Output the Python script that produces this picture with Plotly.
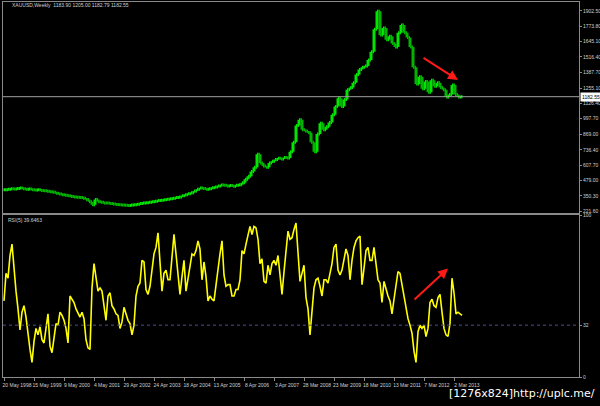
import pandas as pd
import plotly.graph_objects as go

# weekly gold bars, one close every 3 screen px
price_close = [
    400, 405, 410, 408, 412, 415, 410, 405, 408, 402,
    398, 400, 395, 392, 388, 385, 380, 372, 365, 360,
    355, 350, 345, 340, 338, 335, 330, 320, 300, 275,
    320, 300, 295, 290, 290, 285, 282, 278, 275, 272,
    270, 268, 272, 275, 280, 285, 290, 292, 295, 300,
    305, 310, 312, 318, 322, 325, 330, 335, 340, 350,
    360, 368, 376, 390, 405, 416, 412, 405, 410, 418,
    425, 432, 440, 438, 432, 436, 430, 438, 442, 460,
    490, 515, 555, 590, 700, 626, 600, 590, 625, 640,
    655, 665, 660, 672, 668, 720, 800, 940, 990, 905,
    895, 880, 800, 720, 870, 960, 905, 930, 965, 1030,
    1100, 1170, 1100, 1160, 1240, 1260, 1300, 1370, 1410, 1430,
    1440, 1490, 1560, 1750, 1900, 1700, 1760, 1660, 1690, 1630,
    1600, 1720, 1785, 1720, 1680, 1600, 1430, 1290, 1350, 1250,
    1310, 1220, 1320, 1270, 1300, 1260, 1240, 1180, 1200, 1280,
    1200, 1180, 1183,
]

# RSI values, one every 2 screen px
rsi_values = [
    47, 64, 61, 75, 82, 66, 53, 42, 29, 40,
    44, 37, 25, 17, 9, 22, 30, 26, 31, 23,
    21, 30, 39, 19, 15, 24, 33, 32, 40, 38,
    35, 30, 21, 50, 48, 46, 42, 39, 37, 40,
    36, 23, 18, 17, 55, 70, 62, 53, 55, 53,
    44, 35, 50, 52, 44, 42, 39, 38, 30, 34,
    43, 39, 35, 33, 26, 32, 50, 56, 58, 72,
    71, 54, 51, 56, 68, 76, 80, 89, 71, 53,
    64, 66, 60, 60, 74, 88, 76, 64, 51, 62,
    72, 53, 61, 68, 76, 75, 78, 84, 79, 60,
    71, 62, 47, 50, 48, 47, 58, 68, 76, 84,
    63, 56, 57, 57, 50, 50, 54, 54, 60, 78,
    76, 82, 88, 93, 88, 93, 92, 85, 70, 73,
    59, 58, 69, 63, 70, 72, 69, 75, 63, 51,
    65, 79, 90, 85, 86, 91, 95, 77, 59, 64,
    69, 49, 42, 26, 42, 55, 60, 61, 56, 50,
    60, 60, 58, 64, 70, 80, 82, 66, 63, 66,
    73, 79, 75, 60, 72, 80, 84, 86, 87, 57,
    67, 78, 80, 72, 72, 80, 70, 60, 58, 46,
    59, 54, 50, 47, 39, 48, 58, 65, 64, 57,
    50, 45, 36, 32, 27, 16, 9, 28, 32, 30,
    32, 25, 30, 46, 48, 44, 43, 49, 51, 40,
    30, 26, 25, 33, 61, 52, 39, 40, 39, 38,
]

price_ticks = [1902.50, 1773.80, 1645.10, 1516.40, 1387.70, 1255.10, 1126.40,
               997.70, 869.00, 736.40, 607.70, 479.00, 350.30, 221.60]
rsi_ticks = [0, 32, 100]
last_price = 1182.55
rsi_level = 32
title_price = "XAUUSD,Weekly  1183.90 1205.00 1182.79 1182.55"
title_rsi = "RSI(5) 39.6463"

PX_DAYS = 12
AXIS_START = pd.Timestamp("1998-05-08")
L, R, T, B = 3, 579, 2, 377  # plot area in screen px


def at_px(px):
    return AXIS_START + pd.Timedelta(days=(px - L) * PX_DAYS)


def paper_x(px):
    return (px - L) / (R - L)


def paper_y(py):
    return (B - py) / (B - T)


price_dates = pd.date_range(at_px(5), periods=len(price_close), freq="36D")
rsi_dates = pd.date_range(at_px(4), periods=len(rsi_values), freq="24D")
price_open = [price_close[0]] + price_close[:-1]
price_high = [max(o, c) for o, c in zip(price_open, price_close)]
price_low = [min(o, c) for o, c in zip(price_open, price_close)]

x_tick_dates = [at_px(4 + 30 * k) for k in range(16)]
x_tick_text = [f"{d.day} {d:%b %Y}" for d in x_tick_dates]

GRAY = "#8a8a8a"
TXT = "#d0d0d0"
FONT = "Liberation Sans"

fig = go.Figure()
fig.add_trace(go.Ohlc(
    x=price_dates, open=price_open, high=price_high, low=price_low, close=price_close,
    increasing_line_color="#00e600", decreasing_line_color="#00b400",
    line_width=3, tickwidth=0.5, xaxis="x", yaxis="y", hoverinfo="skip",
))
fig.add_trace(go.Scatter(
    x=rsi_dates, y=rsi_values, mode="lines", line={"color": "#ffff00", "width": 1.6},
    xaxis="x2", yaxis="y2", hoverinfo="skip",
))

axis_common = {"showgrid": False, "zeroline": False, "showline": True, "mirror": True,
               "linecolor": GRAY, "linewidth": 1, "automargin": False}
x_range = [at_px(L), at_px(R)]

fig.update_layout(
    width=600, height=406, showlegend=False,
    paper_bgcolor="#000000", plot_bgcolor="#000000",
    margin={"l": L, "r": 600 - R, "t": T, "b": 406 - B},
    font={"family": FONT, "size": 5, "color": TXT},
    xaxis={**axis_common, "domain": [0, 1], "anchor": "y", "range": x_range,
           "showticklabels": False, "ticks": "", "rangeslider": {"visible": False}},
    xaxis2={**axis_common, "domain": [0, 1], "anchor": "y2", "matches": "x",
            "range": x_range, "tickvals": x_tick_dates, "ticktext": x_tick_text,
            "tickangle": 0, "ticks": "outside", "ticklen": 3, "tickcolor": GRAY,
            "ticklabelshift": 13, "tickfont": {"size": 5, "color": TXT},
            "rangeslider": {"visible": False}},
    yaxis={**axis_common, "domain": [paper_y(213), 1], "anchor": "x", "side": "right",
           "range": [205.7, 1978], "tickvals": price_ticks,
           "ticktext": [f"{v:.2f}" for v in price_ticks],
           "ticks": "outside", "ticklen": 2, "tickcolor": GRAY, "tickfont": {"size": 5, "color": TXT}},
    yaxis2={**axis_common, "domain": [0, paper_y(215)], "anchor": "x2", "side": "right",
            "range": [0, 100], "tickvals": rsi_ticks, "ticktext": [str(v) for v in rsi_ticks],
            "ticks": "outside", "ticklen": 2, "tickcolor": GRAY, "tickfont": {"size": 5, "color": TXT}},
)

# last price line and marker
fig.add_shape(type="line", xref="paper", yref="y", x0=0, x1=1,
              y0=last_price, y1=last_price, line={"color": "#a0a0a0", "width": 1})
fig.add_annotation(xref="paper", yref="y", x=paper_x(580), y=last_price, xanchor="left",
                   text=f"{last_price:.2f}", showarrow=False, bgcolor="#ffffff",
                   font={"size": 5, "color": "#000000"}, borderpad=1)
# RSI level
fig.add_shape(type="line", xref="paper", yref="y2", x0=0, x1=1,
              y0=rsi_level, y1=rsi_level, line={"color": "#50508c", "width": 1, "dash": "dot"})

# pane captions
fig.add_annotation(xref="paper", yref="paper", x=paper_x(10), y=paper_y(5), xanchor="left",
                   yanchor="middle", text=title_price, showarrow=False, font={"size": 5, "color": TXT})
fig.add_annotation(xref="paper", yref="paper", x=paper_x(6), y=paper_y(220), xanchor="left",
                   yanchor="middle", text=title_rsi, showarrow=False, font={"size": 5, "color": TXT})

# hand-drawn red arrows (divergence)
fig.add_annotation(xref="x", yref="y", axref="x", ayref="y",
                   x=at_px(458), y=1323, ax=at_px(422), ay=1516, text="",
                   showarrow=True, arrowhead=2, arrowsize=1, arrowwidth=2, arrowcolor="#ff1a1a")
fig.add_annotation(xref="x2", yref="y2", axref="x2", ayref="y2",
                   x=at_px(448), y=67, ax=at_px(413), ay=47, text="",
                   showarrow=True, arrowhead=2, arrowsize=1, arrowwidth=2, arrowcolor="#ff1a1a")

# watermark
fig.add_annotation(xref="paper", yref="paper", x=paper_x(597), y=paper_y(394), xanchor="right",
                   yanchor="middle", text="[1276x824]http://uplc.me/", showarrow=False,
                   font={"family": "DejaVu Sans", "size": 11, "color": "#ffffff"})

# page body has a default 8px margin; drop it so the chart sits at the window corner
fig.write_html("out.html", config={"displayModeBar": False},
               post_script="document.body.style.margin='0';")
